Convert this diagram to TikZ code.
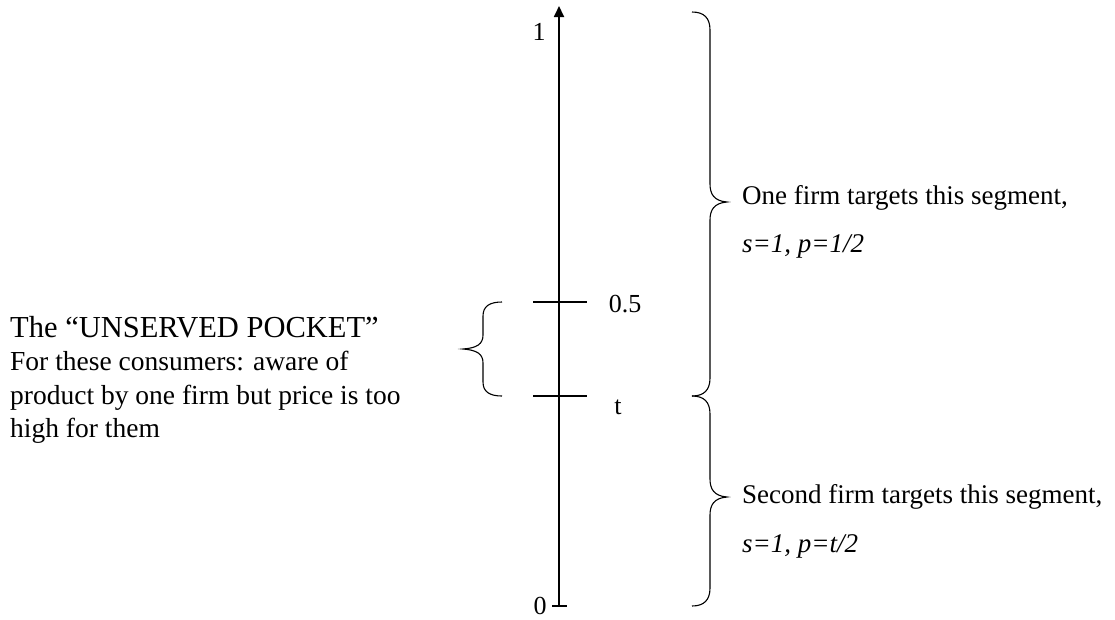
\documentclass[tikz,border=0pt]{standalone}
\usepackage{fontspec}
\setmainfont{Liberation Serif}
\usetikzlibrary{arrows.meta}
\begin{document}
\begin{tikzpicture}[x=1pt,y=-1pt,
  axisline/.style={line width=1.8pt},
  tickline/.style={line width=1.2pt},
  braceline/.style={line width=1.1pt},
  lbl/.style={inner sep=0pt, anchor=base, font=\fontsize{26}{30}\selectfont},
  txt/.style={inner sep=0pt, anchor=base west, font=\fontsize{27}{31}\selectfont},
  ltxt/.style={inner sep=0pt, anchor=base west, font=\fontsize{27.5}{31}\selectfont},
  ttl/.style={inner sep=0pt, anchor=base west, font=\fontsize{30.5}{34}\selectfont}]
\useasboundingbox (0,0) rectangle (1115,619);
% axis
\coordinate (bot) at (559,606);
\coordinate (top) at (559,6);
\draw[axisline,-{Triangle[width=10pt,length=11pt]}] (bot) -- (top);
\coordinate (b0l) at (552,606);
\coordinate (b0r) at (567,606);
\draw[tickline] (b0l) -- (b0r);
\coordinate (h5l) at (533,302);
\coordinate (h5r) at (587,302);
\draw[tickline] (h5l) -- (h5r);
\coordinate (tl) at (533,396);
\coordinate (tr) at (587,396);
\draw[tickline] (tl) -- (tr);
% axis labels
\node[lbl] (one) at (539,40) {1};
\node[lbl] (zero) at (540,614) {0};
\node[lbl] (half) at (625,312) {0.5};
\node[lbl] (tlab) at (618,414) {t};
% right braces
\draw[braceline] (692,12) .. controls (704,12) and (710,18) .. (710,30) -- (710,184)
  .. controls (710,194) and (714,201) .. (727,202)
  .. controls (714,203) and (710,210) .. (710,220) -- (710,378)
  .. controls (710,390) and (704,396) .. (692,396);
\draw[braceline] (692,396) .. controls (704,396) and (710,402) .. (710,414) -- (710,479)
  .. controls (710,489) and (714,496) .. (727,497)
  .. controls (714,498) and (710,505) .. (710,515) -- (710,588)
  .. controls (710,600) and (704,606) .. (692,606);
% left brace
\draw[braceline] (502,302) .. controls (490,302) and (483,306) .. (483,316) -- (483,335)
  .. controls (483,344) and (477,348) .. (463,349)
  .. controls (477,350) and (483,354) .. (483,363) -- (483,382)
  .. controls (483,392) and (490,396) .. (502,396);
% right texts
\node[txt] (r1) at (742,204) {One firm targets this segment,};
\node[txt] (r2) at (742,252) {\textit{s=1, p=1/2}};
\node[txt] (r3) at (742,503) {Second firm targets this segment,};
\node[txt] (r4) at (742,552) {\textit{s=1, p=t/2}};
% left texts
\node[ttl] (l0) at (10,337) {The “UNSERVED POCKET”};
\node[ltxt] (l1) at (10,370.5) {For these consumers: aware of};
\node[ltxt] (l2) at (10,404) {product by one firm but price is too};
\node[ltxt] (l3) at (10,437.5) {high for them};
\end{tikzpicture}
\end{document}
